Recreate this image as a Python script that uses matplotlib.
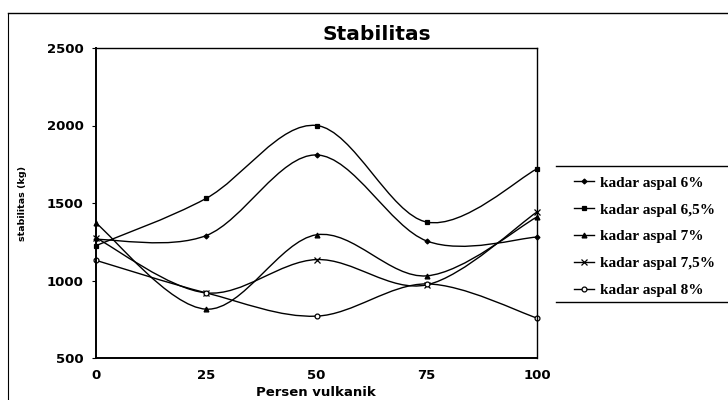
import matplotlib
matplotlib.use("Agg")
import matplotlib.pyplot as plt
from matplotlib.path import Path
from matplotlib.patches import PathPatch
from matplotlib.lines import Line2D
import numpy as np

persen = [0, 25, 50, 75, 100]
labels = ['kadar aspal 6%', 'kadar aspal 6,5%', 'kadar aspal 7%',
          'kadar aspal 7,5%', 'kadar aspal 8%']
aspal_6 = [1265, 1290, 1810, 1255, 1280]
aspal_65 = [1225, 1530, 2000, 1377, 1720]
aspal_7 = [1370, 815, 1295, 1030, 1410]
aspal_75 = [1275, 920, 1135, 972, 1442]
aspal_8 = [1130, 920, 770, 978, 758]

series = [aspal_6, aspal_65, aspal_7, aspal_75, aspal_8]
markers = [('D', 2.5, 'black'), ('s', 3, 'black'), ('^', 3.5, 'black'),
           ('x', 4, 'black'), ('o', 3.5, 'white')]


def smooth_path(x, y):
    # bezier through the points, like the spreadsheet's smoothed line
    pts = np.column_stack([x, y]).astype(float)
    n = len(pts)
    verts = [pts[0]]
    codes = [Path.MOVETO]
    for i in range(n - 1):
        p0 = pts[i - 1] if i > 0 else pts[i]
        p1 = pts[i]
        p2 = pts[i + 1]
        p3 = pts[i + 2] if i + 2 < n else pts[i + 1]
        c1 = p1 + (p2 - p0) / 6.0
        c2 = p2 - (p3 - p1) / 6.0
        verts += [c1, c2, p2]
        codes += [Path.CURVE4] * 3
    return Path(verts, codes)


fig = plt.figure(figsize=(7.28, 4.0), dpi=100)
ax = fig.add_axes([96 / 728, 1 - 358 / 400, 441 / 728, 310 / 400])

handles = []
for vals, (m, ms, fc), lab in zip(series, markers, labels):
    ax.add_patch(PathPatch(smooth_path(persen, vals), fill=False,
                           edgecolor='black', lw=1.0))
    ax.plot(persen, vals, ls='none', marker=m, ms=ms, mfc=fc, mec='black',
            mew=0.9, clip_on=False)
    handles.append(Line2D([], [], color='black', lw=1.0, marker=m, ms=ms,
                          mfc=fc, mec='black', mew=0.9))

ax.set_xlim(0, 100)
ax.set_ylim(500, 2500)
ax.set_xticks(persen)
ax.set_yticks([500, 1000, 1500, 2000, 2500])
ax.tick_params(axis='x', length=0, pad=8)
ax.tick_params(axis='y', length=3, direction='out', pad=6)
for t in ax.get_xticklabels() + ax.get_yticklabels():
    t.set_fontfamily('DejaVu Sans')
    t.set_fontweight('bold')
    t.set_fontsize(9.5)
for s in ['left', 'bottom']:
    ax.spines[s].set_linewidth(1.4)
for s in ['top', 'right']:
    ax.spines[s].set_linewidth(1.0)

fig.text(377 / 728, 1 - 35 / 400, 'Stabilitas', ha='center', va='center',
         fontfamily='DejaVu Sans', fontweight='bold', fontsize=14.5)
fig.text(316 / 728, 1 - 392 / 400, 'Persen vulkanik', ha='center', va='center',
         fontfamily='DejaVu Sans', fontweight='bold', fontsize=9.5)
fig.text(23 / 728, 1 - 203 / 400, 'stabilitas (kg)', ha='center', va='center',
         rotation=90, fontfamily='DejaVu Sans', fontweight='bold',
         fontsize=6.8)

leg = fig.legend(handles=handles, labels=labels, loc='upper left',
                 bbox_to_anchor=(568 / 728, 1 - 170 / 400), frameon=False,
                 prop={'family': 'Liberation Serif', 'weight': 'bold',
                       'size': 11},
                 handlelength=1.3, handletextpad=0.4, labelspacing=0.86,
                 borderaxespad=0)

# legend frame lines and the outer chart border
fig.add_artist(Line2D([556 / 728, 1.0], [1 - 166 / 400] * 2, color='black',
                      lw=1.0, transform=fig.transFigure))
fig.add_artist(Line2D([556 / 728, 1.0], [1 - 302 / 400] * 2, color='black',
                      lw=1.0, transform=fig.transFigure))
fig.add_artist(Line2D([8 / 728, 1.0], [1 - 13 / 400] * 2, color='black',
                      lw=1.0, transform=fig.transFigure))
fig.add_artist(Line2D([8 / 728] * 2, [0, 1 - 13 / 400], color='black',
                      lw=0.8, transform=fig.transFigure))

fig.savefig('out.png', dpi=100)
